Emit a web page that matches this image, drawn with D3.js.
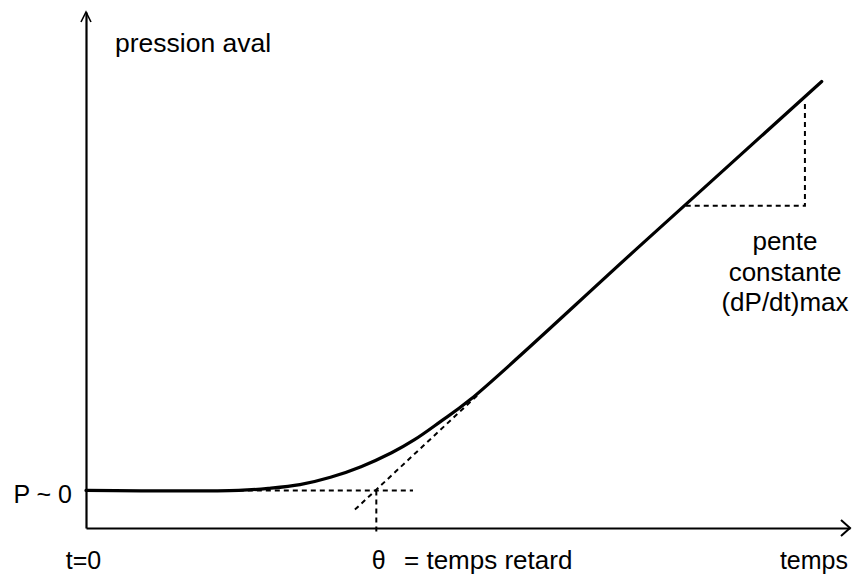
<!DOCTYPE html>
<html>
<head>
<meta charset="utf-8">
<script src="https://cdn.jsdelivr.net/npm/d3@7"></script>
<style>
  html, body { margin: 0; padding: 0; background: #fff; }
  svg text { font-family: "Liberation Sans", Arial, Helvetica, sans-serif; fill: #000; }
</style>
</head>
<body>
<svg id="chart" width="857" height="579"></svg>
<script>
// ---- data (time / pressure, arbitrary units) ----
const curveTime     = [0, 2.0, 2.4, 2.8, 3.2, 3.6, 4.0, 4.3, 4.63, 5.03, 7.25, 9.63];
const curvePressure = [0, 0,   0.05, 0.14, 0.32, 0.58, 0.92, 1.24, 1.67, 2.22, 5.98, 10.0];

const tangentTime     = [3.52, 5.12];
const tangentPressure = [-0.47, 2.32];

const baselineTime     = [2.0, 4.28];
const baselinePressure = [0, 0];

const thetaTime     = [3.8, 3.8];
const thetaPressure = [0, -1.04];

const slopeTime     = [7.85, 9.41, 9.41];
const slopePressure = [6.96, 6.96, 9.55];

const xTickValues = [0, 3.8];
const xTickLabels = ["t=0", "θ"];
const yTickValues = [0];
const yTickLabels = ["P ~ 0"];

const yLabel = "pression aval";
const xLabel = "temps";
const thetaLabel = "= temps retard";
const slopeLabel = ["pente", "constante", "(dP/dt)max"];

// ---- scales ----
const svg = d3.select("#chart");
const xMin = 0, xMax = 10, yMin = -0.92, yMax = 11.7;
const x = d3.scaleLinear().domain([xMin, xMax]).range([86, 850]);
const y = d3.scaleLinear().domain([yMin, yMax]).range([528, 12]);
const pts = (ts, ps) => ts.map((t, i) => [t, ps[i]]);
const line = d3.line().x(d => x(d[0])).y(d => y(d[1]));

// ---- axes ----
const xAxis = d3.axisBottom(x).tickValues(xTickValues)
  .tickFormat((d, i) => xTickLabels[i]).tickSize(0).tickSizeOuter(0).tickPadding(23);
const gx = svg.append("g").attr("transform", `translate(0,${y(yMin)})`).call(xAxis);
gx.select(".domain").attr("stroke", "#000").attr("stroke-width", 2.2);
gx.selectAll(".tick text").attr("font-size", 25).attr("font-family", "Liberation Sans, Arial, sans-serif")
  .attr("fill", "#000");
gx.selectAll(".tick").filter((d, i) => i === 0).select("text").attr("dx", -3);
gx.selectAll(".tick").filter((d, i) => i === 1).select("text").attr("dx", 2);

const yAxis = d3.axisLeft(y).tickValues(yTickValues)
  .tickFormat((d, i) => yTickLabels[i]).tickSize(0).tickSizeOuter(0).tickPadding(14);
const gy = svg.append("g").attr("transform", `translate(${x(xMin)},0)`).call(yAxis);
gy.select(".domain").attr("stroke", "#000").attr("stroke-width", 2.2);
gy.selectAll(".tick text").attr("font-size", 25).attr("font-family", "Liberation Sans, Arial, sans-serif")
  .attr("fill", "#000").attr("dy", "0.5em");

// arrow heads
const ax = x(xMax), ay = y(yMin);
svg.append("path").attr("d", `M${ax - 9},${ay - 8}L${ax},${ay}L${ax - 9},${ay + 8}`)
  .attr("fill", "none").attr("stroke", "#000").attr("stroke-width", 2);
const bx = x(xMin), by = y(yMax);
svg.append("path").attr("d", `M${bx - 5},${by + 10}L${bx},${by}L${bx + 5},${by + 10}`)
  .attr("fill", "none").attr("stroke", "#000").attr("stroke-width", 1.6);

// ---- dotted construction lines ----
const dash = { "stroke": "#000", "stroke-width": 2, "stroke-dasharray": "5,4", "fill": "none" };
function dotted(ts, ps) {
  const p = svg.append("path").attr("d", line(pts(ts, ps)));
  Object.entries(dash).forEach(([k, v]) => p.attr(k, v));
}
dotted(baselineTime, baselinePressure);
dotted(tangentTime, tangentPressure);
dotted(thetaTime, thetaPressure);
dotted(slopeTime, slopePressure);

// ---- main curve ----
svg.append("path")
  .attr("d", d3.line().x(d => x(d[0])).y(d => y(d[1])).curve(d3.curveCatmullRom.alpha(0.5))(pts(curveTime, curvePressure)))
  .attr("fill", "none").attr("stroke", "#000").attr("stroke-width", 3.2)
  .attr("stroke-linecap", "round");

// ---- labels ----
svg.append("text").attr("x", 115).attr("y", 52).attr("font-size", 26.5).text(yLabel);
svg.append("text").attr("x", 848).attr("y", 569).attr("font-size", 25)
  .attr("text-anchor", "end").text(xLabel);
svg.append("text").attr("x", 404).attr("y", 569).attr("font-size", 26).text(thetaLabel);
slopeLabel.forEach((s, i) => {
  svg.append("text").attr("x", 785).attr("y", 250 + i * 30.5).attr("font-size", 26)
    .attr("text-anchor", "middle").text(s);
});
</script>
</body>
</html>
